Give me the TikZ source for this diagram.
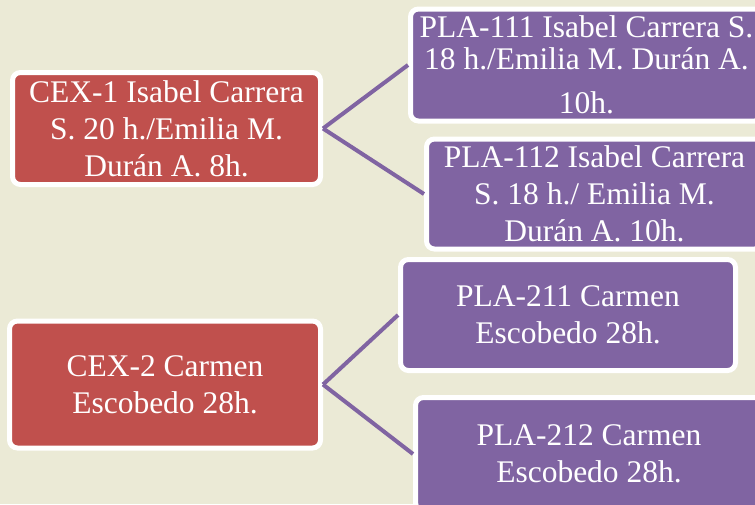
\documentclass[tikz,border=0pt]{standalone}
\usepackage{fontspec}
\setmainfont{Liberation Serif}
\definecolor{bgcream}{HTML}{EBEAD6}
\definecolor{cexred}{HTML}{C0504D}
\definecolor{plapurple}{HTML}{8064A2}

\begin{document}
\begin{tikzpicture}[x=1pt, y=-1pt]
    \tikzstyle{red box}=[
        draw = white,
        line width = 5pt,
        fill = cexred,
        text = white,
        rounded corners = 8pt,
        align = center,
        inner sep = 0pt,
        font = \fontsize{31.5}{37}\selectfont
    ]
    \tikzstyle{purple box}=[
        red box,
        fill = plapurple
    ]

    \clip (0, 0) rectangle (755, 504);
    \fill[bgcream] (0, 0) rectangle (755, 504);

    \node[red box, minimum width=308pt, minimum height=112pt]    (cex1) at (166.5, 128.5)
        {CEX-1 Isabel Carrera\\S. 20 h./Emilia M.\\Durán A. 8h.};
    \node[red box, minimum width=311pt, minimum height=127pt]    (cex2) at (165, 384.5)
        {CEX-2 Carmen\\Escobedo 28h.};
    \node[purple box, minimum width=352pt, minimum height=112pt] (pla111) at (586.5, 65)
        {PLA-111 Isabel Carrera S.\\[-5pt]18 h./Emilia M. Durán A.\\[7pt]10h.};
    \node[purple box, minimum width=336pt, minimum height=110pt] (pla112) at (594.5, 194)
        {PLA-112 Isabel Carrera\\S. 18 h./ Emilia M.\\Durán A. 10h.};
    \node[purple box, minimum width=335pt, minimum height=111pt] (pla211) at (568, 315)
        {PLA-211 Carmen\\Escobedo 28h.};
    \node[purple box, minimum width=347pt, minimum height=113pt] (pla212) at (589, 454)
        {PLA-212 Carmen\\Escobedo 28h.};

    \path[-, line width=4pt, plapurple] (cex1.east) edge (pla111.west);
    \path[-, line width=4pt, plapurple] (cex1.east) edge (pla112.west);
    \path[-, line width=4pt, plapurple] (cex2.east) edge (pla211.west);
    \path[-, line width=4pt, plapurple] (cex2.east) edge (pla212.west);

\end{tikzpicture}
\end{document}
